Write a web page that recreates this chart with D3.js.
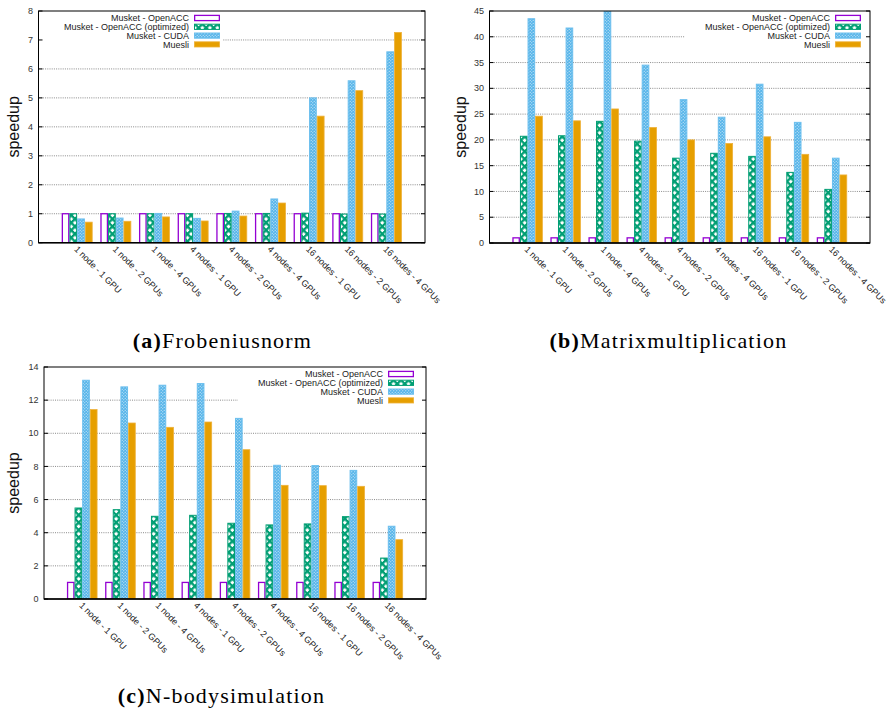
<!DOCTYPE html>
<html><head><meta charset="utf-8">
<script src="https://cdn.jsdelivr.net/npm/d3@7"></script>
<style>body{margin:0;background:#fff}</style>
</head><body><svg id="chart" width="888" height="710"></svg>
<script>
// ---------- data ----------
const categories = ["1 node - 1 GPU","1 node - 2 GPUs","1 node - 4 GPUs","4 nodes - 1 GPU","4 nodes - 2 GPUs","4 nodes - 4 GPUs","16 nodes - 1 GPU","16 nodes - 2 GPUs","16 nodes - 4 GPUs"];
const seriesNames = ["Musket - OpenACC","Musket - OpenACC (optimized)","Musket - CUDA","Muesli"];

const frobOpenACC = [1,1,1,1,1,1,1,1,1];
const frobOptimized = [1.0,1.0,1.0,1.0,1.01,1.01,1.02,0.99,0.99];
const frobCUDA = [0.82,0.85,1.01,0.84,1.09,1.51,5.0,5.59,6.59];
const frobMuesli = [0.71,0.74,0.89,0.75,0.92,1.37,4.37,5.25,7.26];
const frobTicks = [0,1,2,3,4,5,6,7,8];

const matOpenACC = [1,1,1,1,1,1,1,1,1];
const matOptimized = [20.7,20.8,23.6,19.75,16.45,17.4,16.8,13.7,10.4];
const matCUDA = [43.5,41.7,45.0,34.5,27.8,24.4,30.8,23.4,16.45];
const matMuesli = [24.6,23.7,26.0,22.4,20.0,19.3,20.6,17.2,13.2];
const matTicks = [0,5,10,15,20,25,30,35,40,45];

const nbOpenACC = [1,1,1,1,1,1,1,1,1];
const nbOptimized = [5.49,5.39,4.99,5.05,4.57,4.47,4.53,4.97,2.47];
const nbCUDA = [13.2,12.8,12.9,13.0,10.9,8.07,8.05,7.76,4.39];
const nbMuesli = [11.43,10.62,10.36,10.68,9.01,6.86,6.84,6.8,3.58];
const nbTicks = [0,2,4,6,8,10,12,14];

const captionLetters = ["(a)","(b)","(c)"];
const captionTexts = ["Frobeniusnorm","Matrixmultiplication","N-bodysimulation"];

// ---------- layout ----------
const panels = [
  {series:[frobOpenACC,frobOptimized,frobCUDA,frobMuesli], ticks:frobTicks, left:38.5, right:425, top:11, bottom:242.7,
   ylabX:13, legBgL:38.5, legBgR:223, legSampleR:220, capX:222.5, capY:348},
  {series:[matOpenACC,matOptimized,matCUDA,matMuesli], ticks:matTicks, left:489.5, right:870, top:11, bottom:243,
   ylabX:460, legBgL:685, legBgR:870, legSampleR:861, capX:668.5, capY:348},
  {series:[nbOpenACC,nbOptimized,nbCUDA,nbMuesli], ticks:nbTicks, left:44, right:426, top:367, bottom:599,
   ylabX:13, legBgL:238, legBgR:426, legSampleR:414, capX:221.5, capY:703}
];

const colors = ["#9400d3","#009e73","#56b4e9","#e69f00"];

const svg = d3.select("#chart");
const defs = svg.append("defs");

// green cross-hatch pattern
const pg = defs.append("pattern").attr("id","pGreen").attr("patternUnits","userSpaceOnUse")
  .attr("width",5.3).attr("height",5.3).attr("patternTransform","rotate(45)");
pg.append("rect").attr("width",5.3).attr("height",5.3).attr("fill","#fff");
pg.append("rect").attr("x",0).attr("y",0).attr("width",5.3).attr("height",2.3).attr("fill",colors[1]);
pg.append("rect").attr("x",0).attr("y",0).attr("width",2.3).attr("height",5.3).attr("fill",colors[1]);

// blue dotted pattern
const pb = defs.append("pattern").attr("id","pBlue").attr("patternUnits","userSpaceOnUse")
  .attr("width",3).attr("height",3);
pb.append("rect").attr("width",3).attr("height",3).attr("fill",colors[2]);
pb.append("circle").attr("cx",0.75).attr("cy",0.75).attr("r",0.62).attr("fill","#fff").attr("opacity",0.8);
pb.append("circle").attr("cx",2.25).attr("cy",2.25).attr("r",0.62).attr("fill","#fff").attr("opacity",0.8);

const fills = ["#fff","url(#pGreen)","url(#pBlue)",colors[3]];
const strokes = [colors[0],colors[1],"#6cbfee","#eeb13a"];
const strokeW = [1.3,1,1,0.8];

panels.forEach((p, pi) => {
  const g = svg.append("g");
  const x = d3.scaleLinear().domain([-1, 9]).range([p.left, p.right]);
  const ymax = p.ticks[p.ticks.length-1];
  const y = d3.scaleLinear().domain([0, ymax]).range([p.bottom, p.top]);

  // gridlines
  g.append("g").selectAll("line").data(p.ticks.filter(t => t>0 && t<ymax)).join("line")
    .attr("x1",p.left).attr("x2",p.right).attr("y1",d=>y(d)).attr("y2",d=>y(d))
    .attr("stroke","#8a8a8a").attr("stroke-width",1).attr("stroke-dasharray","1,1.2");

  // clip
  const cid = "clip"+pi;
  defs.append("clipPath").attr("id",cid).append("rect")
    .attr("x",p.left).attr("y",p.top).attr("width",p.right-p.left).attr("height",p.bottom-p.top);

  const bw = x(0.2) - x(0);
  const bars = g.append("g").attr("clip-path","url(#"+cid+")");
  p.series.forEach((vals, k) => {
    bars.append("g").selectAll("rect").data(vals).join("rect")
      .attr("x",(d,i)=>x(i - 0.4 + k*0.2) + strokeW[k]/2)
      .attr("y",d=>y(d))
      .attr("width",bw - strokeW[k])
      .attr("height",d=>p.bottom - y(d))
      .attr("fill",fills[k]).attr("stroke",strokes[k]).attr("stroke-width",strokeW[k]);
  });

  // legend background (opaque)
  g.append("rect").attr("x",p.legBgL).attr("y",p.top+0.5).attr("width",p.legBgR-p.legBgL).attr("height",38)
    .attr("fill","#fff");
  const legRows = [7, 15.8, 24.6, 33.4];
  seriesNames.forEach((name, k) => {
    const cy = p.top + legRows[k];
    g.append("text").attr("x",p.legSampleR - 31).attr("y",cy).attr("dy","0.35em")
      .attr("text-anchor","end").attr("font-family","Liberation Sans, Arial, sans-serif")
      .attr("font-size",9).attr("fill","#222").text(name);
    g.append("rect").attr("x",p.legSampleR - 26 + strokeW[k]/2).attr("y",cy-2.6)
      .attr("width",26 - strokeW[k]).attr("height",5.2)
      .attr("fill",fills[k]).attr("stroke",strokes[k]).attr("stroke-width",strokeW[k]);
  });

  // frame
  g.append("rect").attr("x",p.left).attr("y",p.top).attr("width",p.right-p.left).attr("height",p.bottom-p.top)
    .attr("fill","none").attr("stroke","#000").attr("stroke-width",1);
  g.append("line").attr("x1",p.left).attr("x2",p.right).attr("y1",p.bottom).attr("y2",p.bottom)
    .attr("stroke","#000").attr("stroke-width",1.6);

  // y ticks (inward, mirrored)
  const yt = g.append("g");
  yt.selectAll("line.l").data(p.ticks).join("line").attr("class","l")
    .attr("x1",p.left).attr("x2",p.left+4).attr("y1",d=>y(d)).attr("y2",d=>y(d)).attr("stroke","#000");
  yt.selectAll("line.r").data(p.ticks).join("line").attr("class","r")
    .attr("x1",p.right).attr("x2",p.right-4).attr("y1",d=>y(d)).attr("y2",d=>y(d)).attr("stroke","#000");
  yt.selectAll("text").data(p.ticks).join("text")
    .attr("x",p.left-5.5).attr("y",d=>y(d)).attr("dy","0.35em").attr("text-anchor","end")
    .attr("font-family","Liberation Sans, Arial, sans-serif").attr("font-size",9).attr("fill","#333")
    .text(d=>d);

  // x tick labels, rotated
  g.append("g").selectAll("text").data(categories).join("text")
    .attr("transform",(d,i)=>`translate(${x(i)-3.5},${p.bottom+7}) rotate(45)`)
    .attr("font-family","Liberation Sans, Arial, sans-serif").attr("font-size",9).attr("fill","#222")
    .text(d=>d);

  // y label
  g.append("text").attr("transform",`translate(${p.ylabX},${(p.top+p.bottom)/2}) rotate(-90)`)
    .attr("text-anchor","middle").attr("dy","0.35em")
    .attr("font-family","Liberation Sans, Arial, sans-serif").attr("font-size",16).attr("fill","#111")
    .text("speedup");

  // caption
  const cap = svg.append("text").attr("x",p.capX).attr("y",p.capY).attr("text-anchor","middle")
    .attr("font-family","Liberation Serif, Times New Roman, serif").attr("font-size",22)
    .attr("letter-spacing",1.2).attr("fill","#000");
  cap.append("tspan").attr("font-weight","bold").text(captionLetters[pi]);
  cap.append("tspan").text(captionTexts[pi]);
});
</script></body></html>
